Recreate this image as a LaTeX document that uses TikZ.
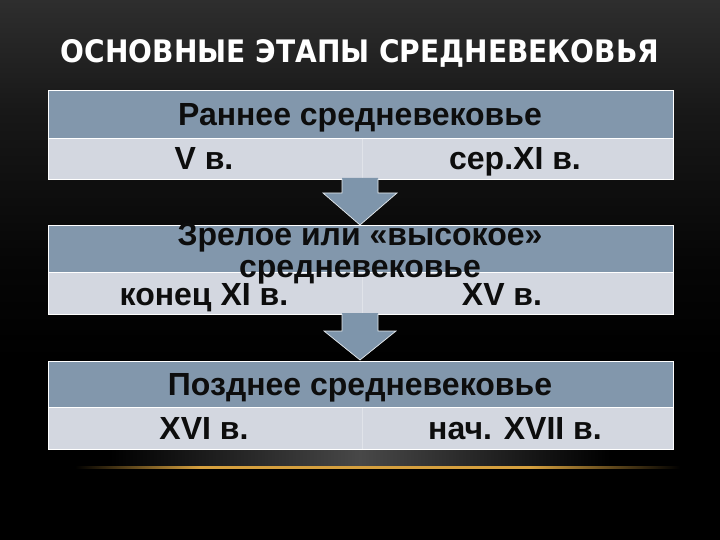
\documentclass[tikz,border=0pt]{standalone}
\usepackage{fontspec}
\setmainfont{Liberation Sans}
\newfontfamily\titlefont{DejaVu Sans}
\usetikzlibrary{calc}
\definecolor{hdr}{RGB}{130,151,172}
\definecolor{rowc}{RGB}{211,215,224}
\definecolor{arr}{RGB}{126,149,171}
\definecolor{gold}{RGB}{214,160,62}
\definecolor{bgtop}{RGB}{46,46,46}
\definecolor{bgmid}{RGB}{24,24,24}
\definecolor{bglow}{RGB}{6,6,6}
\definecolor{glow}{RGB}{72,72,72}
\begin{document}
\begin{tikzpicture}[x=1pt,y=-1pt,
  cellbox/.style={draw=white, line width=0.8pt, inner sep=0pt, outer sep=0pt, anchor=north west, minimum width=625pt},
  hdrbox/.style={cellbox, fill=hdr},
  rowbox/.style={cellbox, fill=rowc},
  lbl/.style={font=\fontsize{32}{36}\selectfont\bfseries, text=black!95, inner sep=0pt, anchor=base},
  arrfill/.style={fill=arr},
  arredge/.style={draw=white!80!arr, line width=0.7pt, line join=miter},
  divider/.style={draw=white!30!rowc, line width=0.6pt}]
\useasboundingbox (0,0) rectangle (720,540);
% background
\fill[black] (0,0) rectangle (720,540);
\shade[top color=bgtop, bottom color=bgmid] (0,0) rectangle (720,110);
\shade[top color=bgmid, bottom color=bglow] (0,110) rectangle (720,260);
\shade[top color=bglow, bottom color=black] (0,260) rectangle (720,360);
% glow under last table
\shade[left color=black, right color=black, middle color=glow] (110,450) rectangle (610,466);
\shade[left color=black, right color=gold] (75,466) rectangle (200,468.5);
\fill[gold] (200,466) rectangle (530,468.5);
\shade[left color=gold, right color=black] (530,466) rectangle (680,468.5);
% title
\node[font=\titlefont\bfseries\fontsize{31}{36}\selectfont, text=white, inner sep=0pt, anchor=base] (title) at (360,63) {\resizebox{598pt}{\height}{ОСНОВНЫЕ ЭТАПЫ СРЕДНЕВЕКОВЬЯ}};
% table 1
\node[hdrbox, minimum height=48pt] (h1) at (48,90) {};
\node[rowbox, minimum height=41pt] (r1) at (48,138) {};
\draw[divider] (362,139) -- (362,178.5);
% table 2
\node[hdrbox, minimum height=47pt] (h2) at (48,225) {};
\node[rowbox, minimum height=42pt] (r2) at (48,272) {};
\draw[divider] (362,273) -- (362,313.5);
% table 3
\node[hdrbox, minimum height=46pt] (h3) at (48,361) {};
\node[rowbox, minimum height=42pt] (r3) at (48,407) {};
\draw[divider] (362,408) -- (362,448.5);
% texts
\node[lbl] (t1) at (360,125.5) {Раннее средневековье};
\node[lbl] (t1a) at (204,170) {V в.};
\node[lbl] (t1b) at (515,170) {сер.XI в.};
\node[lbl] (t2) at (360,245) {Зрелое или «высокое»};
\node[lbl] (t2x) at (360,277) {средневековье};
\node[lbl] (t2a) at (204,305) {конец XI в.};
\node[lbl] (t2b) at (502,305) {XV в.};
\node[lbl] (t3) at (360,395.5) {Позднее средневековье};
\node[lbl] (t3a) at (204,439.5) {XVI в.};
\node[lbl] (t3b) at (515,439.5) {нач. XVII в.};
% arrows
\coordinate (a1) at ($(r1.south)+(-0.5,-1)$);
\fill[arrfill] ($(a1)+(-18,0)$) -- ($(a1)+(18,0)$) -- ($(a1)+(18,15)$) -- ($(a1)+(37,15)$) -- ($(a1)+(0,47)$) -- ($(a1)+(-37,15)$) -- ($(a1)+(-18,15)$) -- cycle;
\draw[arredge] ($(a1)+(-18,1)$) -- ($(a1)+(-18,15)$) -- ($(a1)+(-37,15)$) -- ($(a1)+(0,47)$) -- ($(a1)+(37,15)$) -- ($(a1)+(18,15)$) -- ($(a1)+(18,1)$);
\coordinate (a2) at ($(r2.south)+(-0.5,-1)$);
\fill[arrfill] ($(a2)+(-18,0)$) -- ($(a2)+(18,0)$) -- ($(a2)+(18,18)$) -- ($(a2)+(36,18)$) -- ($(a2)+(0,47)$) -- ($(a2)+(-36,18)$) -- ($(a2)+(-18,18)$) -- cycle;
\draw[arredge] ($(a2)+(-18,1)$) -- ($(a2)+(-18,18)$) -- ($(a2)+(-36,18)$) -- ($(a2)+(0,47)$) -- ($(a2)+(36,18)$) -- ($(a2)+(18,18)$) -- ($(a2)+(18,1)$);
\end{tikzpicture}
\end{document}
